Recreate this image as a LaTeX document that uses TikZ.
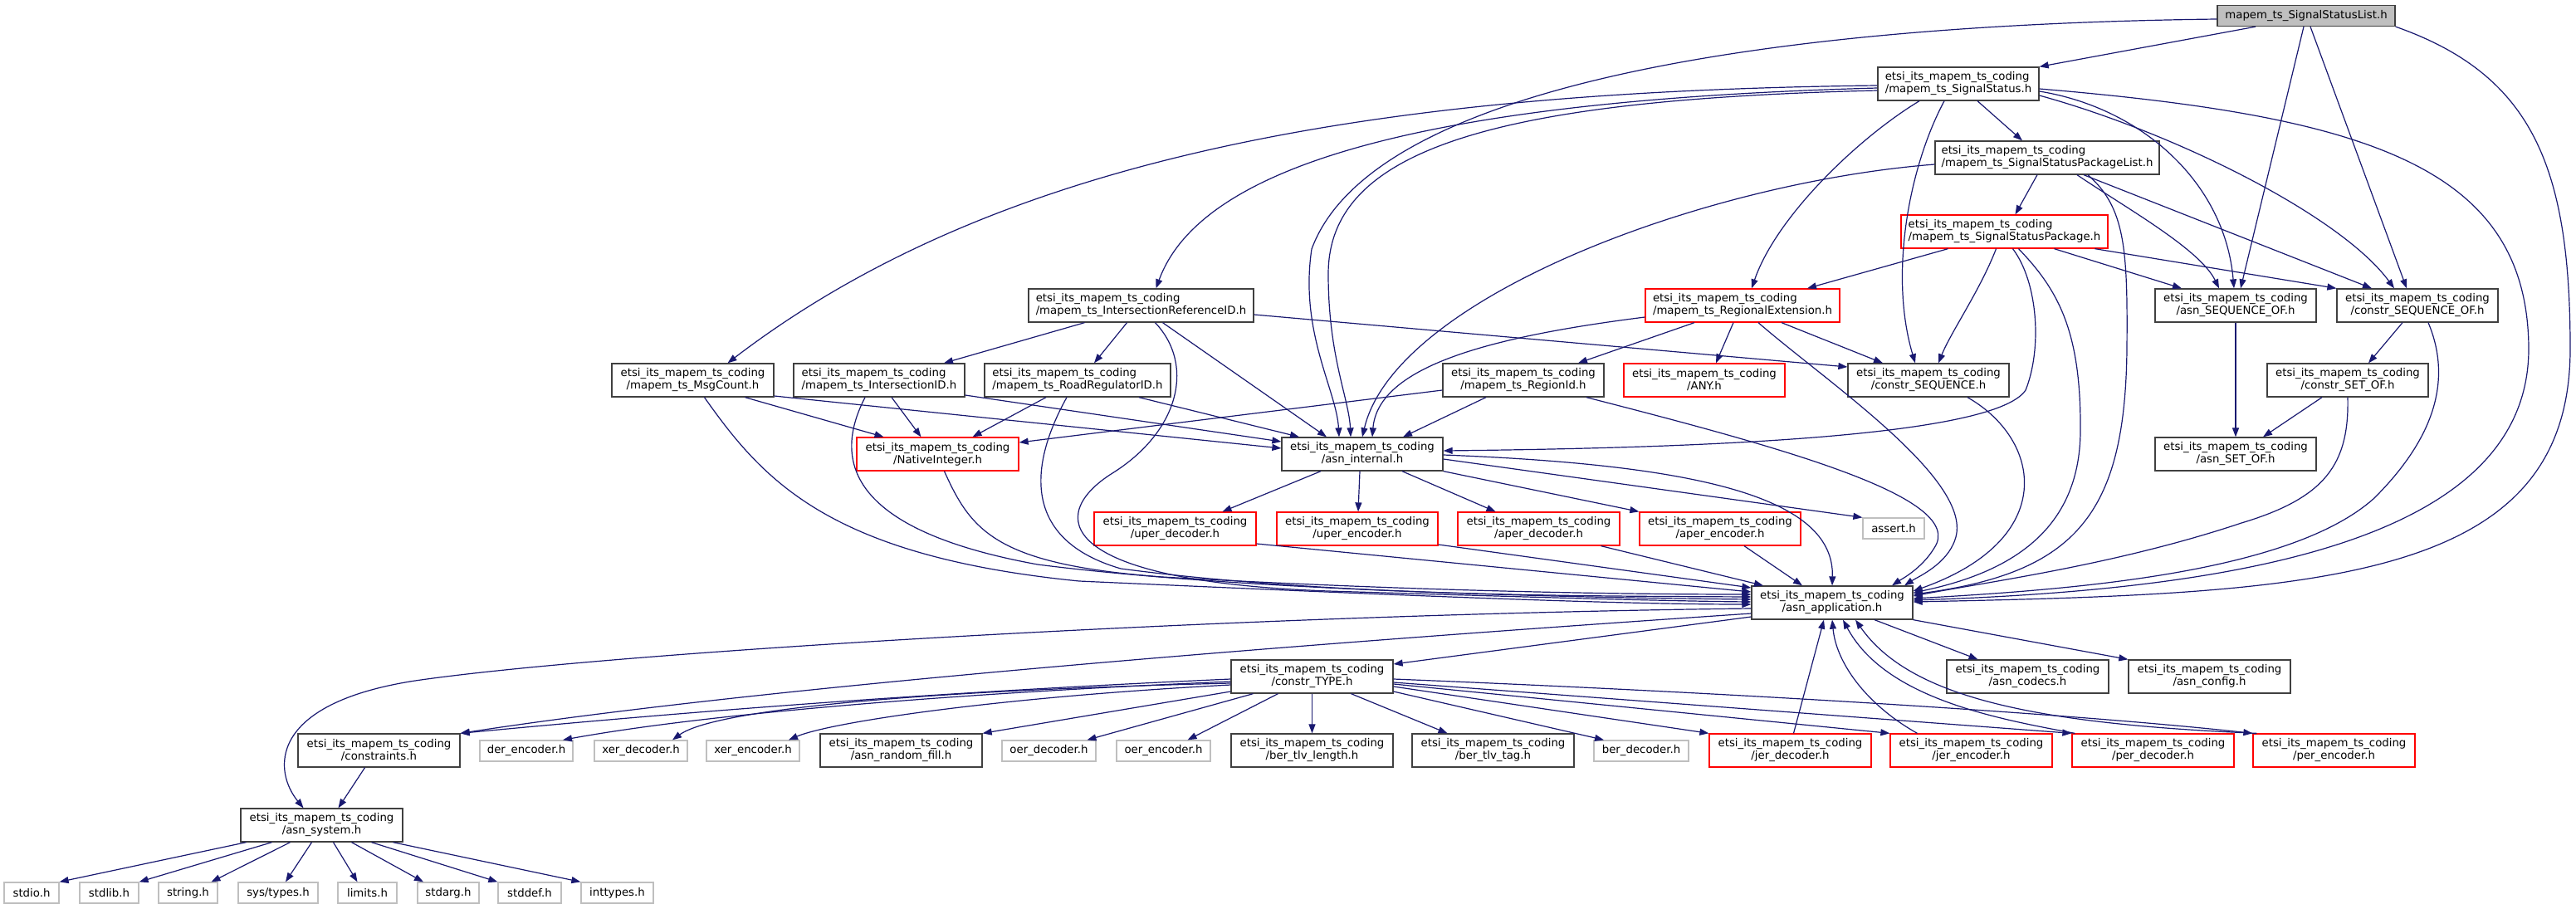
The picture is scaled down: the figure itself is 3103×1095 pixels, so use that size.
\documentclass[tikz,border=0pt]{standalone}
\usepackage{fontspec}
\setmainfont{DejaVu Sans}
\usetikzlibrary{arrows.meta}
\definecolor{edgec}{RGB}{25,25,112}
\definecolor{grayb}{RGB}{191,191,191}
\definecolor{darkb}{RGB}{64,64,64}
\newcommand\fnt{\fontsize{13.3pt}{15pt}\selectfont}
\newcommand\twol[1]{etsi\_its\_mapem\_ts\_coding\\#1}
\tikzset{
 nd/.style={draw=darkb, line width=1.3pt, fill=white, inner sep=0pt, minimum height=40pt, align=center, font=\fnt},
 rednd/.style={nd, draw=red},
 sysnd/.style={nd, draw=grayb, minimum height=25pt},
 topnd/.style={nd, fill=grayb, minimum height=25pt},
 la/.style={align=left},
 dep/.style={draw=edgec, line width=1.2pt, -{Triangle[length=11pt,width=8pt]}}
}
\begin{document}
\begin{tikzpicture}[x=1pt,y=-1pt]
\path[fill=white] (0,0) rectangle (3103,1095);
\useasboundingbox (0,0) rectangle (3103,1095);
% nodes
\node[topnd, minimum width=214pt] (ssl) at (2778,19) {mapem\_ts\_SignalStatusList.h};
\node[nd, la, minimum width=194pt] (ss) at (2359,101) {\twol{/mapem\_ts\_SignalStatus.h}};
\node[nd, la, minimum width=270pt] (sspl) at (2466,190) {\twol{/mapem\_ts\_SignalStatusPackageList.h}};
\node[rednd, la, minimum width=249pt] (ssp) at (2414.5,279) {\twol{/mapem\_ts\_SignalStatusPackage.h}};
\node[nd, minimum width=194pt] (seqof) at (2693,368) {\twol{/asn\_SEQUENCE\_OF.h}};
\node[nd, minimum width=194pt] (cseqof) at (2912,368) {\twol{/constr\_SEQUENCE\_OF.h}};
\node[nd, minimum width=194pt] (csetof) at (2828,458) {\twol{/constr\_SET\_OF.h}};
\node[nd, minimum width=194pt] (setof) at (2693,547) {\twol{/asn\_SET\_OF.h}};
\node[rednd, la, minimum width=234pt] (re) at (2099,368) {\twol{/mapem\_ts\_RegionalExtension.h}};
\node[nd, la, minimum width=271pt] (irid) at (1374.5,368) {\twol{/mapem\_ts\_IntersectionReferenceID.h}};
\node[nd, minimum width=195pt] (msg) at (834.5,458) {\twol{/mapem\_ts\_MsgCount.h}};
\node[nd, la, minimum width=206pt] (iid) at (1059,458) {\twol{/mapem\_ts\_IntersectionID.h}};
\node[nd, la, minimum width=224pt] (rrid) at (1298,458) {\twol{/mapem\_ts\_RoadRegulatorID.h}};
\node[nd, minimum width=194pt] (regid) at (1835,458) {\twol{/mapem\_ts\_RegionId.h}};
\node[rednd, minimum width=194pt] (any) at (2053,458) {\twol{/ANY.h}};
\node[nd, minimum width=194pt] (cseq) at (2323,458) {\twol{/constr\_SEQUENCE.h}};
\node[rednd, minimum width=195pt] (nat) at (1129.5,547) {\twol{/NativeInteger.h}};
\node[nd, minimum width=194pt] (asnint) at (1641,547) {\twol{/asn\_internal.h}};
\node[rednd, minimum width=195pt] (uperd) at (1415.5,637) {\twol{/uper\_decoder.h}};
\node[rednd, minimum width=194pt] (upere) at (1635,637) {\twol{/uper\_encoder.h}};
\node[rednd, minimum width=195pt] (aperd) at (1853.5,637) {\twol{/aper\_decoder.h}};
\node[rednd, minimum width=194pt] (apere) at (2072,637) {\twol{/aper\_encoder.h}};
\node[sysnd, minimum width=74pt] (assert) at (2281,636.5) {assert.h};
\node[nd, minimum width=194pt] (app) at (2207,726) {\twol{/asn\_application.h}};
\node[nd, minimum width=195pt] (ctype) at (1580.5,815) {\twol{/constr\_TYPE.h}};
\node[nd, minimum width=195pt] (codecs) at (2442.5,815) {\twol{/asn\_codecs.h}};
\node[nd, minimum width=195pt] (config) at (2661.5,815) {\twol{/asn\_config.h}};
\node[nd, minimum width=195pt] (constraints) at (456.5,904) {\twol{/constraints.h}};
\node[sysnd, minimum width=112pt] (der) at (634,904.5) {der\_encoder.h};
\node[sysnd, minimum width=112pt] (xerd) at (772,904.5) {xer\_decoder.h};
\node[sysnd, minimum width=112pt] (xere) at (907,904.5) {xer\_encoder.h};
\node[nd, minimum width=195pt] (rfill) at (1085.5,904) {\twol{/asn\_random\_fill.h}};
\node[sysnd, minimum width=113pt] (oerd) at (1263.5,904.5) {oer\_decoder.h};
\node[sysnd, minimum width=113pt] (oere) at (1401.5,904.5) {oer\_encoder.h};
\node[nd, minimum width=195pt] (tlvlen) at (1580.5,904) {\twol{/ber\_tlv\_length.h}};
\node[nd, minimum width=195pt] (tlvtag) at (1798.5,904) {\twol{/ber\_tlv\_tag.h}};
\node[sysnd, minimum width=114pt] (berd) at (1977,904.5) {ber\_decoder.h};
\node[rednd, minimum width=195pt] (jerd) at (2156.5,904) {\twol{/jer\_decoder.h}};
\node[rednd, minimum width=195pt] (jere) at (2374.5,904) {\twol{/jer\_encoder.h}};
\node[rednd, minimum width=195pt] (perd) at (2593.5,904) {\twol{/per\_decoder.h}};
\node[rednd, minimum width=195pt] (pere) at (2811.5,904) {\twol{/per\_encoder.h}};
\node[nd, minimum width=195pt] (sys) at (387.5,994) {\twol{/asn\_system.h}};
\node[sysnd, minimum width=66pt] (stdio) at (38,1075.5) {stdio.h};
\node[sysnd, minimum width=71pt] (stdlib) at (131.5,1075.5) {stdlib.h};
\node[sysnd, minimum width=71pt] (string) at (226.5,1075.5) {string.h};
\node[sysnd, minimum width=96pt] (systypes) at (335,1075.5) {sys/types.h};
\node[sysnd, minimum width=71pt] (limits) at (442.5,1075.5) {limits.h};
\node[sysnd, minimum width=74pt] (stdarg) at (540,1075.5) {stdarg.h};
\node[sysnd, minimum width=76pt] (stddef) at (638,1075.5) {stddef.h};
\node[sysnd, minimum width=87pt] (inttypes) at (743.5,1075.5) {inttypes.h};
% edges from SignalStatusList
\draw[dep] ([xshift=-61pt]ssl.south) -- (ss.north east);
\draw[dep] ([yshift=-4pt]ssl.west) .. controls (2100,30) and (1650,110) .. (1580,300) .. controls (1565,400) and (1610,470) .. ([xshift=-28pt]asnint.north);
\draw[dep] ([xshift=-3pt]ssl.south) -- ([xshift=6pt]seqof.north);
\draw[dep] ([xshift=5pt]ssl.south) -- ([xshift=-13pt]cseqof.north);
\draw[dep] (ssl.south east) .. controls (3050,90) and (3096,200) .. (3096,420) .. controls (3096,700) and (2800,715) .. ([yshift=1pt]app.east);
% SignalStatus
\draw[dep] ([xshift=23pt]ss.south) -- ([xshift=-30pt]sspl.north);
\draw[dep] ([yshift=-2pt]ss.west) .. controls (1650,110) and (1200,190) .. ([xshift=42pt]msg.north);
\draw[dep] ([yshift=-5pt]ss.west) .. controls (1750,120) and (1450,190) .. ([xshift=18pt]irid.north);
\draw[dep] ([yshift=-8pt]ss.west) .. controls (1800,120) and (1600,180) .. (1600,330) .. controls (1600,430) and (1625,480) .. ([xshift=-14pt]asnint.north);
\draw[dep] ([xshift=-47pt]ss.south) .. controls (2240,165) and (2140,260) .. ([xshift=11pt]re.north);
\draw[dep] ([xshift=-17pt]ss.south) .. controls (2300,200) and (2275,330) .. ([xshift=-16pt]cseq.north);
\draw[dep] ([yshift=-9pt]ss.east) .. controls (2580,130) and (2680,220) .. ([xshift=-2pt]seqof.north);
\draw[dep] ([yshift=-14pt]ss.east) .. controls (2620,160) and (2820,260) .. ([xshift=-28pt]cseqof.north);
\draw[dep] ([yshift=-6pt]ss.east) .. controls (2850,140) and (3045,200) .. (3046,420) .. controls (3046,650) and (2700,710) .. ([yshift=3pt]app.east);
% SignalStatusPackageList
\draw[dep] ([xshift=-12pt]sspl.south) -- ([xshift=13pt]ssp.north);
\draw[dep] ([xshift=36pt]sspl.south) .. controls (2560,250) and (2650,300) .. ([xshift=-20pt]seqof.north);
\draw[dep] ([xshift=44pt]sspl.south) -- ([xshift=-55pt]cseqof.north);
\draw[dep] ([xshift=49pt]sspl.south) .. controls (2560,250) and (2563,300) .. (2562,420) .. controls (2560,620) and (2500,690) .. ([yshift=10pt]app.east);
\draw[dep] ([yshift=-8pt]sspl.west) .. controls (2050,220) and (1680,360) .. (asnint.north);
% SignalStatusPackage
\draw[dep] ([xshift=-68pt]ssp.south) -- ([xshift=78pt]re.north);
\draw[dep] ([xshift=-10pt]ssp.south) .. controls (2385,350) and (2350,400) .. ([xshift=12pt]cseq.north);
\draw[dep] ([xshift=10pt]ssp.south) .. controls (2455,340) and (2460,420) .. (2440,470) .. controls (2400,530) and (2000,540) .. ([yshift=4pt]asnint.east);
\draw[dep] ([xshift=17pt]ssp.south) .. controls (2480,350) and (2507,400) .. (2506,520) .. controls (2505,640) and (2420,690) .. ([yshift=12pt]app.east);
\draw[dep] ([xshift=60pt]ssp.south) -- ([xshift=-65pt]seqof.north);
\draw[dep] ([xshift=109pt]ssp.south) -- (cseqof.north west);
% RegionalExtension
\draw[dep] ([xshift=-58pt]re.south) -- ([xshift=66pt]regid.north);
\draw[dep] ([xshift=-11pt]re.south) -- ([xshift=14pt]any.north);
\draw[dep] ([xshift=47pt]re.south) -- ([xshift=-55pt]cseq.north);
\draw[dep] ([xshift=19pt]re.south) .. controls (2200,460) and (2380,580) .. (2355,650) .. controls (2345,680) and (2310,695) .. ([xshift=87pt]app.north);
\draw[dep] ([yshift=-14pt]re.west) .. controls (1800,405) and (1660,440) .. ([xshift=12pt]asnint.north);
% IntersectionReferenceID
\draw[dep] ([xshift=-68pt]irid.south) -- ([xshift=78pt]iid.north);
\draw[dep] ([xshift=-17pt]irid.south) -- ([xshift=20pt]rrid.north);
\draw[dep] ([xshift=26pt]irid.south) -- ([xshift=-43pt]asnint.north);
\draw[dep] ([yshift=-11pt]irid.east) -- ([yshift=16pt]cseq.west);
\draw[dep] ([xshift=17pt]irid.south) .. controls (1440,440) and (1420,520) .. (1340,570) .. controls (1260,620) and (1270,700) .. (1600,712) .. controls (1800,718) and (2000,724) .. ([yshift=1pt]app.west);
% MsgCount
\draw[dep] ([xshift=63pt]msg.south) -- ([xshift=-65pt]nat.north);
\draw[dep] ([yshift=-19pt]msg.east) -- ([yshift=7pt]asnint.west);
\draw[dep] ([xshift=14pt]msg.south) .. controls (920,580) and (1000,670) .. (1300,700) .. controls (1700,718) and (1950,728) .. ([yshift=-2pt]app.west);
% IntersectionID
\draw[dep] ([xshift=15pt]iid.south) -- ([xshift=-20pt]nat.north);
\draw[dep] ([yshift=-18pt]iid.east) -- ([yshift=15pt]asnint.west);
\draw[dep] ([xshift=-17pt]iid.south) .. controls (1000,560) and (1030,640) .. (1250,680) .. controls (1500,712) and (1900,720) .. ([yshift=4pt]app.west);
% RoadRegulatorID
\draw[dep] ([xshift=-38pt]rrid.south) -- ([xshift=42pt]nat.north);
\draw[dep] ([xshift=74pt]rrid.south) -- ([xshift=-76pt]asnint.north);
\draw[dep] ([xshift=-13pt]rrid.south) .. controls (1240,560) and (1230,650) .. (1350,685) .. controls (1600,718) and (1900,718) .. ([yshift=7pt]app.west);
% RegionId
\draw[dep] ([yshift=-12pt]regid.west) -- ([yshift=14pt]nat.east);
\draw[dep] ([xshift=-45pt]regid.south) -- ([xshift=49pt]asnint.north);
\draw[dep] ([xshift=76pt]regid.south) .. controls (2150,540) and (2370,600) .. (2330,660) .. controls (2315,685) and (2290,698) .. ([xshift=72pt]app.north);
% constr_SEQUENCE
\draw[dep] ([xshift=47pt]cseq.south) .. controls (2460,530) and (2480,650) .. ([yshift=14pt]app.east);
% NativeInteger
\draw[dep] ([xshift=8pt]nat.south) .. controls (1170,640) and (1200,680) .. (1400,695) .. controls (1700,712) and (1950,716) .. ([yshift=10pt]app.west);
% asn_internal
\draw[dep] ([xshift=-50pt]asnint.south) -- ([xshift=57pt]uperd.north);
\draw[dep] ([xshift=-3pt]asnint.south) -- ([xshift=1pt]upere.north);
\draw[dep] ([xshift=48pt]asnint.south) -- ([xshift=-52pt]aperd.north);
\draw[dep] (asnint.south east) -- (apere.north west);
\draw[dep] ([yshift=-6pt]asnint.east) -- (assert.north west);
\draw[dep] ([yshift=-1pt]asnint.east) .. controls (2050,560) and (2210,600) .. (app.north);
% encoders/decoders to asn_application
\draw[dep] ([yshift=-18pt]uperd.east) -- ([yshift=13pt]app.west);
\draw[dep] ([yshift=-19pt]upere.east) -- ([yshift=18pt]app.west);
\draw[dep] ([xshift=75pt]aperd.south) -- ([xshift=-83pt]app.north);
\draw[dep] ([xshift=29pt]apere.south) -- ([xshift=-36pt]app.north);
% asn_application
\draw[dep] ([yshift=-7pt]app.west) .. controls (1500,740) and (740,785) .. (500,820) .. controls (320,848) and (330,930) .. ([xshift=-22pt]sys.north);
\draw[dep] ([yshift=-13pt]app.west) .. controls (1500,780) and (900,830) .. (constraints.north east);
\draw[dep] ([yshift=-17pt]app.west) -- ([yshift=15pt]ctype.east);
\draw[dep] ([xshift=51pt]app.south) -- ([xshift=-60pt]codecs.north);
\draw[dep] (app.south east) -- (config.north west);
% constr_TYPE
\draw[dep] ([yshift=-3pt]ctype.west) .. controls (1100,835) and (800,860) .. (constraints.north east);
\draw[dep] ([yshift=-6pt]ctype.west) .. controls (1150,835) and (850,860) .. ([xshift=44pt]der.north);
\draw[dep] ([yshift=-8pt]ctype.west) .. controls (1100,832) and (860,855) .. ([xshift=38pt]xerd.north);
\draw[dep] ([yshift=-10pt]ctype.west) .. controls (1200,840) and (1000,870) .. ([xshift=43pt]xere.north);
\draw[dep] ([yshift=-18pt]ctype.west) -- (rfill.north east);
\draw[dep] ([xshift=-71pt]ctype.south) -- ([xshift=46pt]oerd.north);
\draw[dep] ([xshift=-41pt]ctype.south) -- ([xshift=29pt]oere.north);
\draw[dep] (ctype.south) -- (tlvlen.north);
\draw[dep] ([xshift=47pt]ctype.south) -- ([xshift=-55pt]tlvtag.north);
\draw[dep] ([yshift=-18pt]ctype.east) -- ([xshift=-45pt]berd.north);
\draw[dep] ([yshift=-12pt]ctype.east) -- (jerd.north west);
\draw[dep] ([yshift=-9pt]ctype.east) -- (jere.north west);
\draw[dep] ([yshift=-7pt]ctype.east) -- (perd.north west);
\draw[dep] ([yshift=-3pt]ctype.east) .. controls (2100,835) and (2500,860) .. (pere.north west);
% back to asn_application
\draw[dep] ([xshift=4pt]jerd.north) -- ([xshift=-10pt]app.south);
\draw[dep] ([xshift=-65pt]jere.north) .. controls (2250,850) and (2212,800) .. (app.south);
\draw[dep] ([xshift=4pt]perd.north west) .. controls (2400,865) and (2270,840) .. ([xshift=13pt]app.south);
\draw[dep] ([xshift=5pt]pere.north west) .. controls (2450,872) and (2300,840) .. ([xshift=28pt]app.south);
% SEQUENCE_OF / SET_OF
\draw[dep] ([xshift=-18pt]cseqof.south) -- ([xshift=25pt]csetof.north);
\draw[dep] ([xshift=13pt]cseqof.south) .. controls (2955,460) and (2930,530) .. (2860,600) .. controls (2760,690) and (2500,710) .. ([yshift=5pt]app.east);
\draw[dep] (seqof.south) -- (setof.north);
\draw[dep] ([xshift=-31pt]csetof.south) -- ([xshift=33pt]setof.north);
\draw[dep] (csetof.south) .. controls (2830,560) and (2800,600) .. (2700,630) .. controls (2550,680) and (2400,700) .. ([yshift=8pt]app.east);
% constraints / asn_system
\draw[dep] ([xshift=-17pt]constraints.south) -- ([xshift=20pt]sys.north);
\draw[dep] ([xshift=-91pt]sys.south) -- (stdio.north east);
\draw[dep] ([xshift=-60pt]sys.south) -- (stdlib.north east);
\draw[dep] ([xshift=-38pt]sys.south) -- ([xshift=28pt]string.north);
\draw[dep] ([xshift=-12pt]sys.south) -- ([xshift=9pt]systypes.north);
\draw[dep] ([xshift=14pt]sys.south) -- ([xshift=-12pt]limits.north);
\draw[dep] ([xshift=36pt]sys.south) -- ([xshift=-30pt]stdarg.north);
\draw[dep] ([xshift=60pt]sys.south) -- (stddef.north west);
\draw[dep] ([xshift=86pt]sys.south) -- (inttypes.north west);
\end{tikzpicture}
\end{document}
